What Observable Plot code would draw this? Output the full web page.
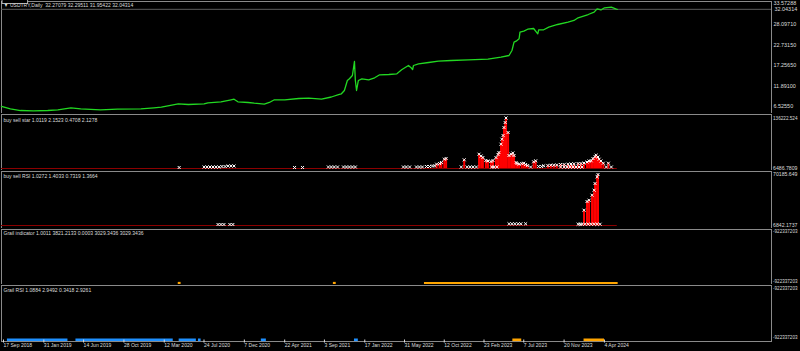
<!DOCTYPE html>
<html><head><meta charset="utf-8">
<script src="https://cdn.jsdelivr.net/npm/d3@7"></script>
<script src="https://cdn.jsdelivr.net/npm/@observablehq/plot@0.6"></script>
<style>
html,body{margin:0;padding:0;background:#000;overflow:hidden;}
#chart{position:relative;width:800px;height:351px;overflow:hidden;background:#000;}
#chart svg{position:absolute;left:0;}
</style></head><body><div id="chart"></div>
<script>
// ---------- data ----------
const priceDates = ["2018-09-17","2018-10-17","2018-11-20","2019-01-03","2019-02-20","2019-03-26","2019-05-09","2019-06-11","2019-08-17","2019-10-13","2019-12-31","2020-02-13","2020-03-09","2020-05-05","2020-06-08","2020-07-31","2020-08-13","2020-09-26","2020-10-30","2020-11-09","2020-11-22","2020-12-27","2021-01-16","2021-02-19","2021-03-08","2021-03-25","2021-04-29","2021-06-15","2021-07-19","2021-08-31","2021-10-03","2021-10-30","2021-11-06","2021-11-16","2021-11-26","2021-12-03","2021-12-13","2021-12-20","2021-12-23","2021-12-27","2022-01-02","2022-01-14","2022-02-06","2022-02-26","2022-03-15","2022-04-15","2022-05-12","2022-05-28","2022-06-20","2022-06-27","2022-07-04","2022-07-07","2022-07-24","2022-08-27","2022-09-29","2022-11-11","2023-01-08","2023-03-15","2023-04-28","2023-05-25","2023-06-04","2023-06-11","2023-06-18","2023-06-28","2023-07-01","2023-07-14","2023-07-27","2023-08-16","2023-08-30","2023-09-02","2023-09-19","2023-10-06","2023-11-05","2023-12-10","2023-12-30","2024-01-13","2024-02-16","2024-03-07","2024-03-17","2024-03-30","2024-04-11","2024-05-04","2024-05-21","2024-05-24"];
const priceValues = [6.53,5.92,5.47,5.40,5.47,5.66,6.18,5.92,5.66,5.82,5.92,6.18,6.34,7.23,7.05,7.23,7.50,7.76,8.29,8.44,7.76,7.58,7.39,7.13,7.58,8.29,8.29,8.63,8.70,8.44,9.02,9.68,9.86,10.73,13.35,13.80,14.67,18.34,13.35,10.73,13.35,13.80,13.54,14.06,14.85,14.93,15.11,16.16,17.29,16.85,16.24,17.29,17.74,18.08,18.42,18.60,18.79,18.95,19.47,19.92,21.23,23.41,23.67,24.30,26.04,26.30,26.82,27.01,25.62,26.67,26.67,27.35,28.06,28.66,29.11,29.82,30.68,31.29,32.18,31.87,32.44,32.60,32.08,32.04314];
const priceTicks = [33.57288,28.09710,22.73150,17.25650,11.89100,6.52550];
const lastClose = 32.04314;
const mainTitle = "\u25BC USDTRY,Daily  32.27079 32.29511 31.95422 32.04314";

const starDates = ["2020-05-08","2020-07-31","2020-08-10","2020-08-20","2020-08-30","2020-09-09","2020-09-19","2020-09-29","2020-10-10","2020-10-20","2020-10-30","2020-11-09","2021-06-01","2021-06-28","2021-09-23","2021-10-03","2021-10-13","2021-10-24","2021-11-13","2021-11-23","2021-12-03","2021-12-13","2021-12-23","2022-06-03","2022-06-13","2022-06-24","2022-07-17","2022-07-27","2022-08-06","2022-08-20","2022-08-30","2022-09-09","2022-09-16","2022-09-23","2022-10-03","2022-10-09","2022-10-19","2022-10-25","2022-12-15","2022-12-25","2023-01-04","2023-01-14","2023-01-24","2023-02-04","2023-02-13","2023-02-20","2023-02-26","2023-03-08","2023-03-15","2023-03-25","2023-04-01","2023-04-11","2023-04-18","2023-04-21","2023-03-28","2023-04-04","2023-04-14","2023-04-28","2023-05-01","2023-05-05","2023-05-08","2023-05-12","2023-05-15","2023-05-22","2023-05-25","2023-06-01","2023-06-07","2023-06-11","2023-06-18","2023-06-21","2023-06-28","2023-07-07","2023-07-14","2023-07-20","2023-07-27","2023-08-06","2023-08-16","2023-08-23","2023-09-02","2023-09-12","2023-09-19","2023-10-03","2023-10-13","2023-10-23","2023-11-02","2023-11-15","2023-11-27","2023-12-10","2023-12-20","2023-12-30","2024-01-13","2024-01-23","2024-02-02","2024-02-12","2024-02-19","2024-02-26","2024-03-03","2024-03-10","2024-03-14","2024-03-20","2024-03-24","2024-03-30","2024-04-07","2024-04-17","2024-04-24","2024-05-04","2023-11-15","2023-11-27","2023-12-07","2023-12-17","2023-12-27","2024-01-06","2024-01-16","2024-01-26"];
const starValues = [9056,10340,10340,10340,10340,10340,10340,11625,11625,12910,12910,12910,9056,9056,10340,10340,10340,10340,10340,10340,10340,10340,10340,10340,10340,10340,10340,10340,10340,11625,11625,12910,13423,17534,19332,21901,30378,32177,10340,28837,10340,10340,10340,10340,43224,38600,34746,27039,25754,24470,27039,34746,42453,47591,10340,10340,10340,68914,81759,91264,111816,124661,136222.524,98971,39884,43224,46307,39884,21901,19332,17534,19332,20103,16763,14194,10340,23699,26268,11625,11625,13423,14194,14965,14965,15479,16763,16763,17534,18047,18561,19332,19332,20616,23185,25754,26268,32177,37315,40655,36031,30378,25754,20103,10340,20103,10340,10340,10340,10340,10340,10340,10340,10340,10340];
const starTitle = "buy sell star 1.0119 2.1523 0.4708 2.1278";
const starAxis = [6486.7809, 136222.524];
const starAxisLabels = ["6486.7809", "136222.524"];

const rsiDates = ["2020-09-16","2020-09-26","2020-10-06","2020-10-26","2020-11-05","2023-05-25","2023-06-04","2023-06-14","2023-06-25","2023-07-04","2023-07-20","2024-01-13","2024-01-20","2024-01-26","2024-02-05","2024-02-16","2024-02-26","2024-03-07","2024-03-17","2024-03-27","2024-02-02","2024-02-12","2024-02-19","2024-02-29","2024-03-07","2024-03-10","2024-03-17","2024-03-20"];
const rsiValues = [8084,8084,8084,8084,8084,8953,8953,8953,8953,8953,8953,8426,8426,8426,8426,8426,8426,8426,8426,8426,25845,36650,38265,44475,50685,59006,67327,70185.649];
const rsiTitle = "buy sell RSI 1.0272 1.4033 0.7319 1.3664";
const rsiAxis = [6842.1737, 70185.649];
const rsiAxisLabels = ["6842.1737", "70185.649"];

const grailMarkDates = ["2020-05-08","2021-10-13"];
const grailBandStart = ["2022-08-13"];
const grailBandEnd = ["2024-05-27"];
const grailTitle = "Grail indicator 1.0011 3821.2133 0.0003 3029.3436 3029.3436";

const grailRsiBlueStart = ["2018-10-07","2019-05-26","2020-05-08","2020-07-12","2021-02-09","2021-12-20"];
const grailRsiBlueEnd   = ["2019-04-29","2020-04-18","2020-07-05","2020-07-21","2021-02-26","2022-01-02"];
const grailRsiOrangeStart = ["2023-06-07","2024-02-02"];
const grailRsiOrangeEnd   = ["2023-07-07","2024-04-11"];
const grailRsiTitle = "Grail RSI 1.0884 2.9492 0.3418 2.9261";
const emptyLabel = "-922337203";

const tickDates = ["2018-09-17","2019-01-31","2019-06-14","2019-10-28","2020-03-12","2020-07-24","2020-12-07","2021-04-22","2021-09-03","2022-01-17","2022-05-31","2022-10-12","2023-02-23","2023-07-07","2023-11-20","2024-04-04"];
const xStart = "2018-09-17", xEnd = "2025-10-26";

// ---------- build ----------
const D = s => new Date(s + "T00:00:00Z");
const FONT = "'Liberation Sans',Arial,sans-serif";
const TXT = "#dcdcdc", GRID = "#8a8a8a", GREEN = "#22d822", DARKRED = "#8b0000", ORANGE = "#ffa500", BLUE = "#1e90ff";
const FS = 6, SQUEEZE = 0.84, RIGHT_LIMIT = 797.5;
const price = priceDates.map((d, i) => ({date: D(d), v: priceValues[i]}));
const star = starDates.map((d, i) => ({date: D(d), v: starValues[i]}));
const rsi = rsiDates.map((d, i) => ({date: D(d), v: rsiValues[i]}));
const lastDate = price[price.length - 1].date;
const chart = document.getElementById("chart");

function base(height, marginBottom) {
  return {
    width: 800, height, marginLeft: 1, marginRight: 29, marginTop: 1, marginBottom,
    style: {background: "#000", color: TXT, fontFamily: FONT, fontSize: FS + "px", overflow: "visible"}
  };
}
const xOpt = (axis) => ({type: "utc", domain: [D(xStart), D(xEnd)], axis});
const title = (t, dy) => Plot.text([t], {frameAnchor: "top-left", dx: 2, dy, textAnchor: "start", lineAnchor: "middle", fill: TXT});
function place(svg, top) {
  svg.style.top = top + "px";
  chart.appendChild(svg);
  const sx = svg.getBoundingClientRect().left;
  svg.querySelectorAll("text").forEach(t => {
    const L = t.getComputedTextLength();
    if (!(L > 0)) return;
    const left = t.getBoundingClientRect().left - sx;
    if (left > 765) {
      // price-scale labels: shrink the font so the label stays inside the window
      const k = Math.min(SQUEEZE, (RIGHT_LIMIT - left) / L);
      t.setAttribute("font-size", (FS * k * 1.08).toFixed(2));
      const L2 = t.getComputedTextLength();
      if (left + L2 > RIGHT_LIMIT) { t.setAttribute("textLength", (RIGHT_LIMIT - left).toFixed(2)); t.setAttribute("lengthAdjust", "spacingAndGlyphs"); }
    } else {
      // condense the text like the terminal's narrow UI font
      t.setAttribute("textLength", (L * SQUEEZE).toFixed(2));
      t.setAttribute("lengthAdjust", "spacingAndGlyphs");
    }
  });
  return svg;
}

// main price panel
const mainPlot = place(Plot.plot({
  ...base(114, 1),
  x: xOpt(null),
  y: {domain: [6.5255, 33.57288], range: [106, 3]},
  marks: [
    Plot.frame({stroke: GRID}),
    Plot.ruleY([lastClose], {stroke: "#5c5c5c"}),
    Plot.lineY(price, {x: "date", y: "v", stroke: GREEN, strokeWidth: 1.3}),
    Plot.axisY({anchor: "right", ticks: priceTicks, tickFormat: d => d.toFixed(5), tickSize: 0, tickPadding: 2, fill: TXT, label: null}),
    title(mainTitle, 3.7),
    Plot.text([lastClose], {y: d => d, text: d => d.toFixed(5), frameAnchor: "right", dx: 3, textAnchor: "start", fill: TXT})
  ]
}), 0);
// box around the current price label
{
  const t = [...mainPlot.querySelectorAll("text")].find(e => e.textContent === lastClose.toFixed(5));
  if (t) {
    const b = t.getBBox();
    d3.select(t.parentNode).insert("rect", "text").attr("x", b.x - 1.5).attr("y", b.y - 0.3).attr("width", b.width + 3).attr("height", b.height + 0.6)
      .attr("fill", "#000").attr("stroke", TXT).attr("stroke-width", 0.8);
  }
}

// buy sell star
place(Plot.plot({
  ...base(58, 1),
  x: xOpt(null),
  y: {domain: [starAxis[0], starAxis[1]], range: [55, 4.5]},
  marks: [
    Plot.frame({stroke: GRID}),
    Plot.ruleY([{y: starAxis[0], x1: D(xStart), x2: lastDate}], {y: "y", x1: "x1", x2: "x2", stroke: DARKRED, strokeWidth: 1.2}),
    Plot.ruleX(star.filter(d => d.v > 14000), {x: "date", y1: starAxis[0], y2: "v", stroke: "#ff0000", strokeWidth: 2}),
    Plot.dot(star, {x: "date", y: "v", symbol: "times", r: 1.5, stroke: "#fff", strokeWidth: 1}),
    Plot.axisY({anchor: "right", ticks: starAxis, tickFormat: d => starAxisLabels[starAxis.indexOf(d)], tickSize: 0, tickPadding: 1.5, fill: TXT, label: null}),
    title(starTitle, 5.3)
  ]
}), 113);

// buy sell RSI
place(Plot.plot({
  ...base(59, 1),
  x: xOpt(null),
  y: {domain: [rsiAxis[0], rsiAxis[1]], range: [55, 4]},
  marks: [
    Plot.frame({stroke: GRID}),
    Plot.ruleY([{y: rsiAxis[0], x1: D(xStart), x2: lastDate}], {y: "y", x1: "x1", x2: "x2", stroke: DARKRED, strokeWidth: 1.2}),
    Plot.ruleX(rsi.filter(d => d.v > 10000), {x: "date", y1: rsiAxis[0], y2: "v", stroke: "#ff0000", strokeWidth: 2}),
    Plot.dot(rsi, {x: "date", y: "v", symbol: "times", r: 1.5, stroke: "#fff", strokeWidth: 1}),
    Plot.axisY({anchor: "right", ticks: rsiAxis, tickFormat: d => rsiAxisLabels[rsiAxis.indexOf(d)], tickSize: 0, tickPadding: 1.5, fill: TXT, label: null}),
    title(rsiTitle, 5)
  ]
}), 170);

// Grail indicator
const grailBands = grailBandStart.map((s, i) => ({start: D(s), end: D(grailBandEnd[i]), level: 0}));
const grailMarks = grailMarkDates.map(s => ({date: D(s), level: 0}));
place(Plot.plot({
  ...base(57, 1),
  x: xOpt(null),
  y: {domain: [0, 1], range: [54.8, 3], axis: null},
  marks: [
    Plot.frame({stroke: GRID}),
    Plot.ruleY(grailBands, {x1: "start", x2: "end", y: "level", stroke: ORANGE, strokeWidth: 2.6}),
    Plot.dot(grailMarks, {x: "date", y: "level", symbol: "square", r: 1.6, fill: ORANGE}),
    Plot.text([emptyLabel], {frameAnchor: "top-right", dx: 1.5, dy: 2, textAnchor: "start", lineAnchor: "middle", fill: TXT}),
    Plot.text([emptyLabel], {frameAnchor: "bottom-right", dx: 1.5, dy: -3, textAnchor: "start", lineAnchor: "middle", fill: TXT}),
    title(grailTitle, 3.7)
  ]
}), 228);

// Grail RSI + time axis
const blueSegs = grailRsiBlueStart.map((s, i) => ({start: D(s), end: D(grailRsiBlueEnd[i]), level: 0}));
const orangeSegs = grailRsiOrangeStart.map((s, i) => ({start: D(s), end: D(grailRsiOrangeEnd[i]), level: 0}));
place(Plot.plot({
  ...base(67, 10),
  x: xOpt(undefined),
  y: {domain: [0, 1], range: [55.3, 4], axis: null},
  marks: [
    Plot.frame({stroke: GRID}),
    Plot.ruleY(blueSegs, {x1: "start", x2: "end", y: "level", stroke: BLUE, strokeWidth: 2.6}),
    Plot.ruleY(orangeSegs, {x1: "start", x2: "end", y: "level", stroke: ORANGE, strokeWidth: 2.6}),
    Plot.axisX({ticks: tickDates.map(D), tickFormat: d3.utcFormat("%-d %b %Y"), tickSize: 3, tickPadding: 0, textAnchor: "start", dx: 2, dy: -1.5, stroke: TXT, fill: TXT, label: null}),
    Plot.text([emptyLabel], {frameAnchor: "top-right", dx: 1.5, dy: 3, textAnchor: "start", lineAnchor: "middle", fill: TXT}),
    Plot.text([emptyLabel], {frameAnchor: "bottom-right", dx: 1.5, dy: -4, textAnchor: "start", lineAnchor: "middle", fill: TXT}),
    title(grailRsiTitle, 4.3)
  ]
}), 284);
</script></body></html>
